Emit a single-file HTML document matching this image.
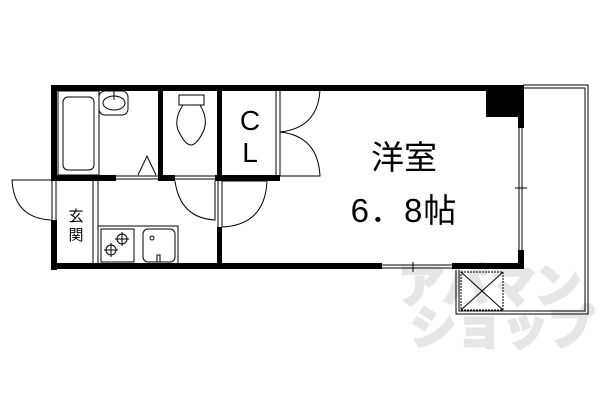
<!DOCTYPE html>
<html><head><meta charset="utf-8"><style>body{margin:0;background:#fff}svg{display:block}</style></head><body>
<svg width="600" height="400" viewBox="0 0 600 400" xmlns="http://www.w3.org/2000/svg" font-family="Liberation Sans, Noto Sans CJK JP, sans-serif">
<rect width="600" height="400" fill="#fff"/>
<!-- watermark -->
<g fill="#e6e6e6" stroke="#e6e6e6" stroke-width="3" font-weight="bold" font-size="46">
<text x="398" y="302">アパマン</text><text x="410" y="344">ショップ</text></g>
<g fill="none" stroke="#000" stroke-width="1">
<!-- balcony -->
<path d="M523 85 H588 V314 H456 V270"/>
<path d="M523 88 H585 V311 H459 V270"/>
<rect x="461" y="272" width="42" height="38" stroke-dasharray="2,1"/>
<path d="M461 272 L503 310 M503 272 L461 310"/>
<!-- bath -->
<rect x="58" y="91" width="41" height="84"/>
<rect x="63" y="97" width="31" height="73" rx="5"/>
<rect x="99" y="91" width="29" height="24" rx="6"/>
<ellipse cx="114" cy="103" rx="11" ry="7"/>
<path d="M114 91 V100"/>
<path d="M138 175 L147 156 L156 175"/>
<!-- toilet -->
<rect x="179" y="95" width="25" height="10"/>
<path d="M183 105 Q174 118 178 130 Q185 145 191 145 Q197 145 204 130 Q208 118 200 105"/>
<!-- CL -->
<path d="M276 90 V176 M280 90 V176"/>
<path d="M280 132 Q318 128 320 90"/>
<path d="M280 132 Q318 136 320 176 H280"/>
<!-- doors -->
<path d="M51 180 H12 Q14 218 51 220"/>
<path d="M52 180 V220 M56 180 V220"/>
<path d="M215 181 V220 Q180 218 175 181"/>
<path d="M218 181 V227 M222 181 V227"/>
<path d="M222 227 Q265 225 267 181 H222"/>
<path d="M116 176 H158 M116 179 H158 M175 176 H215 M175 179 H215"/>
<!-- genkan -->
<path d="M93 181 V264 M98 181 V264"/>
<!-- kitchen -->
<path d="M98 226 H178 V263"/>
<rect x="101" y="229" width="33" height="33"/>
<circle cx="122" cy="239" r="5"/><circle cx="111" cy="250" r="5"/>
<path d="M122 232 V246 M115 239 H129 M111 243 V257 M104 250 H118"/>
<rect x="143" y="229" width="32" height="33" rx="5"/>
<circle cx="152" cy="238" r="2"/>
<path d="M157 262 V255 H160 V262"/>
<!-- windows -->
<path d="M382 265 H452 M382 268 H452 M413 262 V272"/>
<path d="M519 128 V250 M522 128 V250 M515 188 H527"/>
</g>
<g fill="#000">
<rect x="51" y="85" width="473" height="6"/>
<rect x="51" y="85" width="6" height="95"/>
<rect x="51" y="220" width="6" height="50"/>
<rect x="51" y="263" width="331" height="6"/>
<rect x="452" y="263" width="72" height="6"/>
<rect x="51" y="175" width="65" height="6"/>
<rect x="158" y="175" width="17" height="6"/>
<rect x="215" y="175" width="65" height="6"/>
<rect x="158" y="85" width="5" height="95"/>
<rect x="217" y="85" width="5" height="96"/>
<rect x="217" y="227" width="5" height="42"/>
<rect x="486" y="85" width="38" height="32"/>
<rect x="518" y="85" width="6" height="43"/>
<rect x="518" y="250" width="6" height="19"/>
</g>
<g fill="#000">
<text x="250" y="130" font-size="28" text-anchor="middle">C</text>
<text x="250" y="162" font-size="28" text-anchor="middle">L</text>
<text x="404" y="169" font-size="33" text-anchor="middle">洋室</text>
<text x="404" y="222" font-size="33" text-anchor="middle" letter-spacing="1">6．8帖</text>
<text x="76" y="221" font-size="15" text-anchor="middle">玄</text>
<text x="76" y="240" font-size="15" text-anchor="middle">関</text>
</g>
</svg>
</body></html>
